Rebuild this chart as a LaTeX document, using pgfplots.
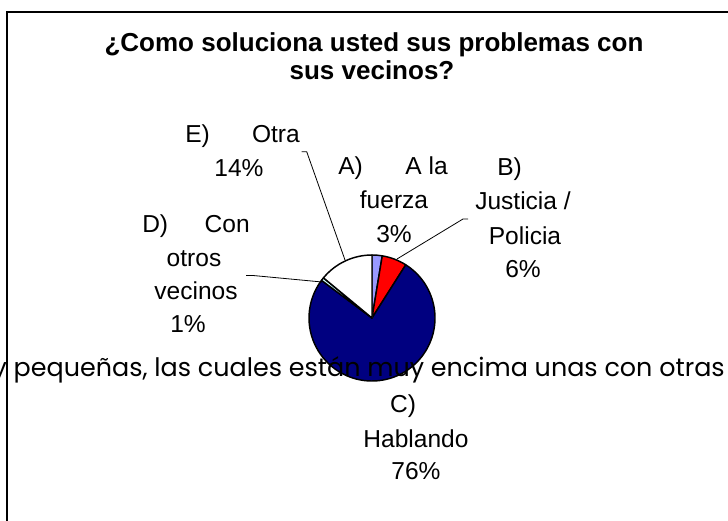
\documentclass[border=0pt]{standalone}
\usepackage{graphicx}
\usepackage{fontspec}
\setmainfont{Liberation Sans}
\newfontfamily\titlefont{Liberation Sans}
\newfontfamily\strayfont{Poppins}
\usepackage{pgfplots}
\usepackage{pgfplotstable}
\pgfplotsset{compat=1.18}
\definecolor{sliceA}{HTML}{9999FF}
\definecolor{sliceB}{HTML}{FF0000}
\definecolor{sliceC}{HTML}{000080}
\definecolor{sliceD}{HTML}{CCFFFF}
\definecolor{sliceE}{HTML}{FFFFFF}

\pgfplotstableread{
name value color
A 2.6 sliceA
B 6.4 sliceB
C 76.2 sliceC
D 0.8 sliceD
E 14.0 sliceE
}\piedata

\newcommand{\lab}{\fontsize{18.4}{22}\selectfont}

\begin{document}
\begin{tikzpicture}
\begin{axis}[at={(0,0)}, anchor=south west, scale only axis,
  width=546pt, height=390.75pt, xmin=0, xmax=728, ymin=0, ymax=521,
  hide axis, clip=false]
% pie slices, clockwise from the top
\pgfmathsetmacro{\cum}{0}
\pgfplotstablegetrowsof{\piedata}
\pgfmathtruncatemacro{\nlast}{\pgfplotsretval-1}
\pgfplotsforeachungrouped \i in {0,...,\nlast}{%
  \pgfplotstablegetelem{\i}{value}\of\piedata \let\val\pgfplotsretval
  \pgfplotstablegetelem{\i}{color}\of\piedata \let\col\pgfplotsretval
  \pgfmathsetmacro{\sa}{90-3.6*\cum}
  \pgfmathsetmacro{\cum}{\cum+\val}
  \pgfmathsetmacro{\ea}{90-3.6*\cum}
  \edef\temp{\noexpand\filldraw[fill=\col, draw=black, line width=1.1pt, line join=round]
    (axis cs:372,203) -- ([shift={(\sa:47.25pt)}]axis cs:372,203)
    arc[start angle=\sa, end angle=\ea, radius=47.25pt] -- cycle;}
  \temp
}
% leader lines
\draw[line width=0.6pt] (axis cs:301.7,369.3) -- (axis cs:306.7,369.3) -- (axis cs:345,261);
\draw[line width=0.6pt] (axis cs:468,302) -- (axis cs:463,302) -- (axis cs:397,262);
\draw[line width=0.6pt] (axis cs:246,245.5) -- (axis cs:253,245.5) -- (axis cs:322,239);
% title
\node[anchor=base, inner sep=0] at (axis cs:374,469) {\titlefont\bfseries\fontsize{19.5}{22}\selectfont ¿Como soluciona usted sus problemas con};
\node[anchor=base, inner sep=0] at (axis cs:372,441) {\titlefont\bfseries\fontsize{19.5}{22}\selectfont sus vecinos?};
% labels E
\node[anchor=base west, inner sep=0] at (axis cs:185,378) {\lab E)};
\node[anchor=base east, inner sep=0] at (axis cs:300,378) {\lab Otra};
\node[anchor=base, inner sep=0] at (axis cs:239,344) {\lab 14\%};
% labels A
\node[anchor=base west, inner sep=0] at (axis cs:338,346) {\lab A)};
\node[anchor=base east, inner sep=0] at (axis cs:448,346) {\lab A la};
\node[anchor=base, inner sep=0] at (axis cs:394,312) {\lab fuerza};
\node[anchor=base, inner sep=0] at (axis cs:394,278) {\lab 3\%};
% labels B
\node[anchor=base west, inner sep=0] at (axis cs:497,345) {\lab B)};
\node[anchor=base, inner sep=0] at (axis cs:523,311) {\lab Justicia /};
\node[anchor=base, inner sep=0] at (axis cs:525,276) {\lab Policia};
\node[anchor=base, inner sep=0] at (axis cs:523,243) {\lab 6\%};
% labels D
\node[anchor=base west, inner sep=0] at (axis cs:142,288) {\lab D)};
\node[anchor=base east, inner sep=0] at (axis cs:250,288) {\lab Con};
\node[anchor=base, inner sep=0] at (axis cs:194,254) {\lab otros};
\node[anchor=base, inner sep=0] at (axis cs:196,221) {\lab vecinos};
\node[anchor=base, inner sep=0] at (axis cs:188,188) {\lab 1\%};
% labels C
\node[anchor=base, inner sep=0] at (axis cs:403,108) {\lab C)};
\node[anchor=base, inner sep=0] at (axis cs:416,73) {\lab Hablando};
\node[anchor=base, inner sep=0] at (axis cs:416,41) {\lab 76\%};
% stray text over the chart
\node[anchor=base east, inner sep=0] at (axis cs:725,144) {\resizebox{549pt}{!}{\strayfont\fontsize{20}{22}\selectfont y pequeñas, las cuales están muy encima unas con otras}};
% frame
\draw[line width=1.4pt] (axis cs:7,-10) -- (axis cs:7,509) -- (axis cs:740,509);
\end{axis}
\pgfresetboundingbox
\useasboundingbox (0,0) rectangle (546pt,390.75pt);
\end{tikzpicture}
\end{document}
